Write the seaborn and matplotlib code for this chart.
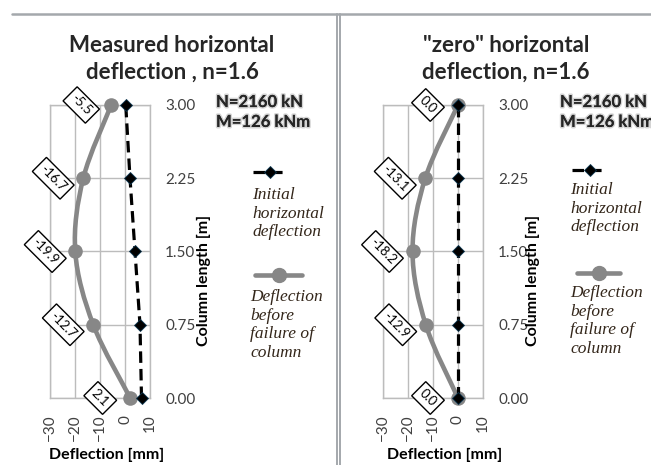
import numpy as np
import matplotlib
matplotlib.use("Agg")
import matplotlib.pyplot as plt
import matplotlib.patheffects as pe
from matplotlib.path import Path
from matplotlib.patches import PathPatch
from matplotlib.lines import Line2D
import seaborn as sns

# ---- data -------------------------------------------------------------
column_length = [0.00, 0.75, 1.50, 2.25, 3.00]          # m
initial_measured = [6.6, 6.0, 4.0, 2.0, 0.3]             # mm
failure_measured = [2.1, -12.7, -19.9, -16.7, -5.5]      # mm
initial_zero = [0.0, 0.0, 0.0, 0.0, 0.0]                 # mm
failure_zero = [0.0, -12.9, -18.2, -13.1, 0.0]           # mm

x_ticks = [-30, -20, -10, 0, 10]
y_ticks = [0.00, 0.75, 1.50, 2.25, 3.00]

panel_titles = ["Measured horizontal\ndeflection , n=1.6",
                "\"zero\" horizontal\ndeflection, n=1.6"]
load_text = "N=2160 kN\nM=126 kNm"
legend_initial = "Initial\nhorizontal\ndeflection"
legend_failure = "Deflection\nbefore\nfailure of\ncolumn"
x_label = "Deflection [mm]"
y_label = "Column length [m]"

# ---- style ------------------------------------------------------------
sns.set_style("white")
plt.rcParams["font.family"] = ["Lato", "DejaVu Sans"]

W, H = 651, 465
fig = plt.figure(figsize=(W / 100, H / 100), dpi=100)
fig.patch.set_facecolor("white")

GRID = "#bcbcbc"
GRAY = "#878787"
TICK = "#404040"
LEG_TXT = "#33261a"


def fx(x):
    return x / W


def fy(y):
    return 1 - y / H


def smooth_path(xs, ys):
    """Catmull-Rom style Bezier path through the points (Excel 'smoothed line')."""
    pts = np.column_stack([xs, ys]).astype(float)
    n = len(pts)
    verts = [pts[0]]
    codes = [Path.MOVETO]
    for i in range(n - 1):
        p0 = pts[i - 1] if i > 0 else pts[i]
        p1 = pts[i]
        p2 = pts[i + 1]
        p3 = pts[i + 2] if i + 2 < n else pts[i + 1]
        verts += [p1 + (p2 - p0) / 6, p2 - (p3 - p1) / 6, p2]
        codes += [Path.CURVE4] * 3
    return Path(verts, codes)


def draw_panel(left_px, initial, failure, title, title_cx, load_x,
               leg, ylabel_x, xlabel_x):
    ax = fig.add_axes([fx(left_px), fy(398), 100 / W, 293 / H])
    ax.set_xlim(-30, 10)
    ax.set_ylim(0, 3)
    ax.set_xticks(x_ticks)
    ax.set_yticks(y_ticks)
    ax.set_yticklabels([f"{v:.2f}" for v in y_ticks])
    ax.grid(True, color=GRID, lw=1)
    for s in ax.spines.values():
        s.set_color(GRID)
        s.set_linewidth(1)
    ax.yaxis.tick_right()
    ax.tick_params(axis="y", length=0, pad=11, labelsize=11, labelcolor=TICK)
    ax.tick_params(axis="x", length=0, pad=12, labelsize=11, labelcolor=TICK,
                   labelrotation=90)
    ax.set_axisbelow(True)

    # failure deflection: smoothed grey line with round markers
    ax.add_patch(PathPatch(smooth_path(failure, column_length), fill=False,
                           ec=GRAY, lw=3.3, capstyle="round", zorder=2))
    sns.scatterplot(x=failure, y=column_length, ax=ax, color=GRAY, s=110,
                    edgecolor=GRAY, linewidth=0, zorder=3, clip_on=False)

    # initial deflection: dashed black line with diamonds
    sns.lineplot(x=initial, y=column_length, ax=ax, sort=False, estimator=None,
                 color="black", lw=2.3, marker="D", markersize=6,
                 markeredgecolor="#0b3550", markeredgewidth=0.6,
                 zorder=4, clip_on=False)
    ax.lines[-1].set_linestyle((0, (3.6, 1.9)))

    # value labels
    for xv, yv in zip(failure, column_length):
        ax.annotate(f"{xv:.1f}", xy=(xv, yv), xytext=(-30, 0),
                    textcoords="offset pixels", rotation=-45,
                    ha="center", va="center", rotation_mode="anchor",
                    fontsize=9.5, color="black", zorder=5,
                    bbox=dict(boxstyle="square,pad=0.3", fc="white",
                              ec="black", lw=1))

    ax.set_xlabel(x_label, fontsize=11.5, fontweight="bold", color="black")
    ax.xaxis.set_label_coords((xlabel_x - left_px) / 100, (398 - 455) / 293)
    ax.xaxis.label.set_va("center")
    ax.yaxis.set_label_position("right")
    ax.set_ylabel(y_label, fontsize=11.5, fontweight="bold", color="black")
    ax.yaxis.set_label_coords((ylabel_x - left_px) / 100, 1 - (280 - 105) / 293)
    ax.yaxis.label.set(ha="center", va="center", rotation=90,
                       rotation_mode="default")

    # title and load text
    fig.text(fx(title_cx), fy(59), title, ha="center", va="center",
             fontsize=16, fontweight="bold", linespacing=1.3)
    fig.text(fx(load_x), fy(112), load_text, ha="left", va="center",
             fontsize=12, fontweight="bold", linespacing=1.3,
             path_effects=[pe.withStroke(linewidth=2.2, foreground="#d4d4d4"),
                           pe.Normal()])

    # legend entries drawn underneath each other
    (l1x0, l1x1, l1y, t1x, t1y), (l2x0, l2x1, l2y, t2x, t2y) = leg
    fig.add_artist(Line2D([fx(l1x0), fx(l1x1)], [fy(l1y)] * 2, color="black",
                          lw=2.3, ls=(0, (3.6, 1.9))))
    fig.add_artist(Line2D([fx((l1x0 + l1x1) / 2)], [fy(l1y)], marker="D",
                          markersize=6, color="black", markeredgecolor="#0b3550",
                          markeredgewidth=0.6))
    fig.text(fx(t1x), fy(t1y), legend_initial, ha="left", va="top",
             fontsize=12.5, style="italic", family="Liberation Serif",
             color=LEG_TXT, linespacing=1.22)
    fig.add_artist(Line2D([fx(l2x0), fx(l2x1)], [fy(l2y)] * 2, color=GRAY,
                          lw=3.3))
    fig.add_artist(Line2D([fx((l2x0 + l2x1) / 2)], [fy(l2y)], marker="o",
                          markersize=10, color=GRAY))
    fig.text(fx(t2x), fy(t2y), legend_failure, ha="left", va="top",
             fontsize=12.5, style="italic", family="Liberation Serif",
             color=LEG_TXT, linespacing=1.22)
    return ax


draw_panel(50, initial_measured, failure_measured, panel_titles[0], 172, 216,
           ((253, 287, 172, 252, 187), (255, 302, 275, 250, 289)), 204, 107)
draw_panel(383, initial_zero, failure_zero, panel_titles[1], 506, 560,
           ((572, 607, 170, 570, 182), (577, 620, 273, 570, 285)), 533, 445)

# sheet borders
border = "#a4a8ac"
fig.add_artist(Line2D([fx(12), 1], [fy(14)] * 2, color=border, lw=1.8))
fig.add_artist(Line2D([fx(336.5)] * 2, [fy(14), 0], color=border, lw=1.4))
fig.add_artist(Line2D([fx(340)] * 2, [fy(14), 0], color=border, lw=1.4))

fig.savefig("out.png", dpi=100, facecolor="white")
